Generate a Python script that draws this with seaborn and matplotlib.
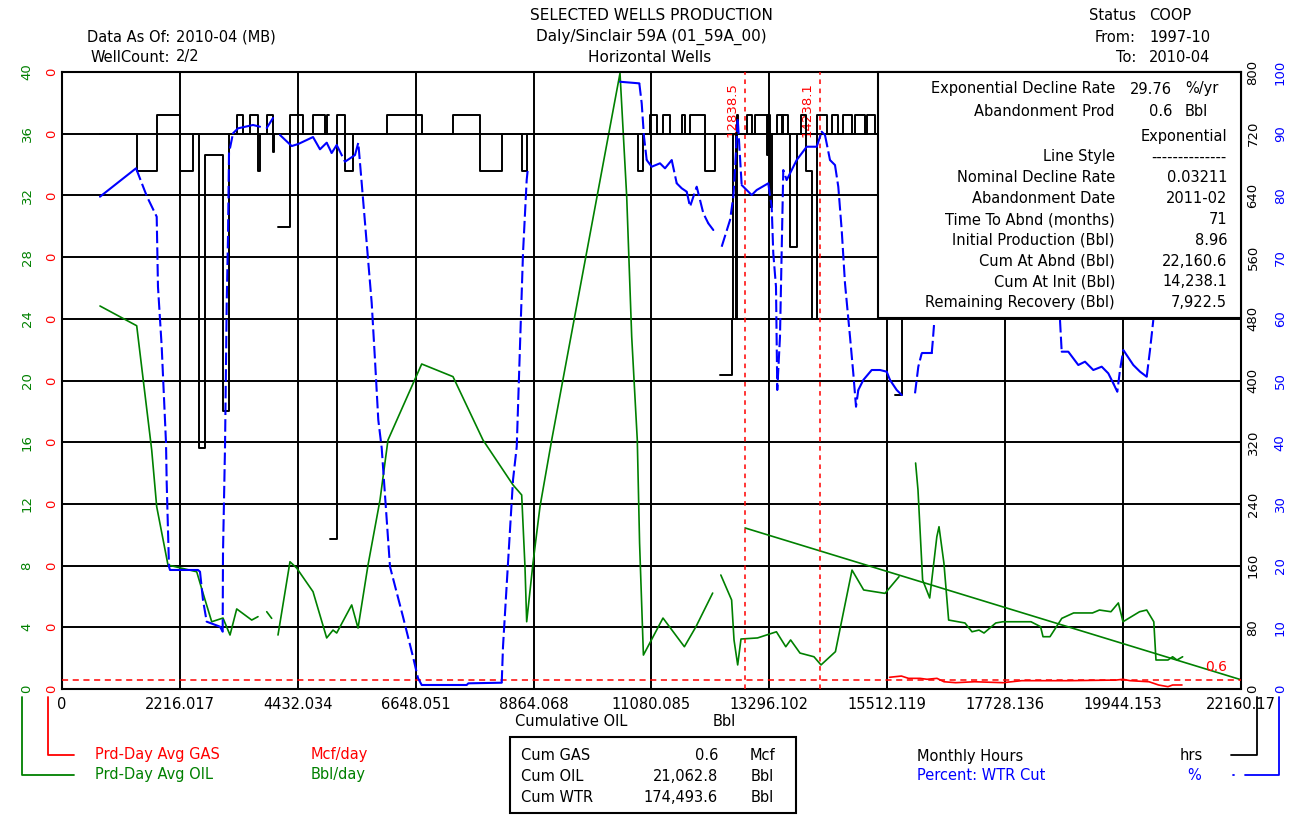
import numpy as np
import pandas as pd
import matplotlib.pyplot as plt
from matplotlib.patches import Rectangle
from matplotlib.lines import Line2D
import seaborn as sns

sns.set_theme(style='white')
plt.rcParams['font.family'] = ['DejaVu Sans']
plt.rcParams['text.color'] = 'black'

GREEN, RED, BLUE = '#008000', '#ff0000', '#0000ff'
W, H = 1289, 817

# ---------------- data ----------------
x_max = 22160.17
x_ticks = [0, 2216.017, 4432.034, 6648.051, 8864.068, 11080.085, 13296.102,
           15512.119, 17728.136, 19944.153, 22160.17]
x_tick_labels = ['0', '2216.017', '4432.034', '6648.051', '8864.068', '11080.085',
                 '13296.102', '15512.119', '17728.136', '19944.153', '22160.17']
oil_ticks = [0, 4, 8, 12, 16, 20, 24, 28, 32, 36, 40]
gas_ticks = [0, 0.04, 0.08, 0.12, 0.16, 0.2, 0.24, 0.28, 0.32, 0.36, 0.4]
hrs_ticks = [0, 80, 160, 240, 320, 400, 480, 560, 640, 720, 800]
wtr_ticks = [0, 10, 20, 30, 40, 50, 60, 70, 80, 90, 100]

# Prd-Day Avg OIL (Bbl/day) vs cumulative oil, NaN = gap in the record
oil_x = [714, 1404, 1686, 1780, 1992, 2532, 2650, 2814, 3026, 3158, 3284, 3566, 3684, np.nan,
         3848, 3941, np.nan,
         4060, 4285, 4411, 4718, 4975, 5094, 5163, 5445, 5564, 5752, 5977, 6127, 6761, 7349,
         7913, 8477, 8640, 8702, 8734, 8853, 8984, 9204, 10488, 10614, 10708, 10813, 10856,
         10928, 11296, 11698, 11916, 12230, np.nan,
         12383, 12586, 12631, 12700, 12762, 13073, 13428, 13604, 13695, 13871, 14134, 14266,
         14537, 14849, 15068, 15469, 15732, np.nan,
         16044, 16089, 16176, 16309, 16443, 16484, 16576, 16665, 16972, 17104, 17236, 17330,
         17551, 17683, 18213, 18393, 18439, 18570, 18792, 19014, 19369, 19500, 19716, 19855,
         19942, 20254, 20388, 20521, 20562, 20788, 20875, 20957, 21063]
oil_y = [24.83, 23.55, 15.49, 11.82, 8.04, 7.60, 6.22, 4.36, 4.60, 3.50, 5.19, 4.47, 4.69, np.nan,
         5.01, 4.58, np.nan,
         3.50, 8.25, 7.84, 6.31, 3.31, 3.82, 3.63, 5.45, 3.95, 8.04, 12.25, 16.14, 21.07, 20.25,
         16.14, 13.23, 12.58, 7.93, 4.36, 8.17, 11.82, 16.14, 39.92, 31.92, 22.84, 16.14, 9.47,
         2.20, 4.60, 2.74, 4.04, 6.22, np.nan,
         7.39, 5.77, 3.18, 1.56, 3.24, 3.31, 3.71, 2.74, 3.18, 2.33, 2.09, 1.56,
         2.42, 7.71, 6.42, 6.20, 7.28, np.nan,
         14.65, 12.90, 7.07, 5.90, 9.87, 10.52, 8.17, 4.47, 4.28, 3.71, 3.82, 3.63,
         4.28, 4.36, 4.36, 4.04, 3.39, 3.39, 4.58, 4.93, 4.93, 5.12, 5.01, 5.58,
         4.36, 5.01, 5.12, 4.36, 1.88, 1.88, 2.09, 1.88, 2.09]

# Prd-Day Avg GAS (Mcf/day)
gas_x = [15555, 15777, 15911, 16127, 16258, 16446, 16578, 16798, 17151, 17683,
         18038, 18927, 19811, 19942, 20074, 20431, 20610, 20788, 20875, 21051]
gas_y = [0.0076, 0.0084, 0.0069, 0.0069, 0.0063, 0.0069, 0.0047, 0.0041, 0.0047, 0.0041,
         0.0054, 0.0054, 0.0058, 0.0063, 0.0054, 0.0047, 0.0026, 0.0015, 0.0026, 0.0026]

# Percent WTR cut
wtr_x = [714, 1391, 1598, 1780, 1804, 1874, 1955, 1968, 2011, 2030, 2556, 2594, 2650, 2720,
         2970, 3020, 3026, 3064, 3096, 3120, 3139, 3214, 3308, 3590, 3722, np.nan,
         3848, 3966, np.nan,
         4097, 4317, 4441, 4718, 4849, 4975, 5069, 5163, 5319, 5507, 5569, 5633, 5727, 5821,
         5883, 5945, 6009, 6165, 6409, 6597, 6691, 6761, 7607, 7637, 8265, 8289, 8383, 8477,
         8547, 8665, 8734, 8753, np.nan,
         10488, 10851, 10896, 10939, 10990, 11084, 11240, 11334, 11460, 11554, 11648, 11742,
         11804, 11930, 12054, 12148, 12242, np.nan,
         12399, 12556, 12618, 12650, 12700, 12743, 12775, 12869, 12963, 13057, 13275, 13339,
         13369, 13420, 13444, 13495, 13557, 13621, 13809, 13997, 14185, 14279, 14341, 14435,
         14529, 14591, 14655, 14717, 14811, 14873, 14924, 14967, 15061, 15219, 15375, 15501,
         15563, 15689, 15783, np.nan,
         16033, 16095, 16159, 16347, 16366, 16390, np.nan,
         18758, 18790, 18914, 19102, 19228, 19384, 19542, 19666, 19760, 19835, 19886, 19948,
         20136, 20262, 20388, 20450, 20512]
wtr_y = [79.79, 84.39, 79.79, 76.55, 65.20, 55.47, 39.87, 33.39, 19.82, 19.29, 19.29, 19.01,
         14.42, 10.91, 10.10, 9.29, 22.04, 39.27, 62.56, 73.30, 86.87, 90.06, 90.87, 91.41,
         91.13, np.nan,
         90.92, 92.54, np.nan,
         89.79, 88.00, 88.33, 89.46, 87.47, 88.54, 86.87, 88.17, 85.46, 86.54, 88.54, 82.01,
         72.28, 62.56, 53.32, 43.60, 39.06, 19.82, 11.72, 5.23, 1.78, 0.65, 0.65, 0.92, 1.02,
         6.86, 20.42, 33.87, 39.27, 70.66, 82.49, 84.11, np.nan,
         98.42, 98.16, 94.92, 89.51, 85.73, 84.65, 85.20, 84.39, 85.73, 81.96, 81.15, 80.60,
         78.17, 81.41, 77.10, 75.47, 74.39, np.nan,
         71.68, 76.01, 79.79, 84.11, 92.49, 86.27, 81.68, 80.87, 80.06, 80.87, 81.96, 78.17,
         70.61, 65.20, 48.46, 57.10, 84.11, 82.49, 85.73, 87.89, 87.89, 90.32, 89.79, 85.73,
         84.92, 81.41, 74.39, 65.75, 57.10, 51.16, 45.75, 48.46, 50.08, 51.70, 51.70, 51.43,
         50.08, 48.46, 47.65, np.nan,
         47.92, 52.24, 54.41, 54.41, 56.29, 58.99, np.nan,
         59.80, 54.67, 54.67, 52.51, 53.05, 51.70, 52.24, 51.16, 49.54, 48.18, 51.70, 54.94,
         52.51, 51.43, 50.61, 54.94, 59.80]

# Monthly hours (step starts), NaN = break in the line
hrs_x = [714, 1404, 1780, 2218, 2468, 2581, 2688, 3032, 3145, 3284, 3408, 3534, 3690, 3715,
         3848, 3972, 3990, 4022, 4060, 4285, 4535, 4723, 4943, 4975, 5024, 5037, 5163, 5319,
         5475, 6103, 6761, 7355, 7857, 8265, 8640, 8734, 10833, 10927, 11052, 11178, 11302,
         11428, 11648, 11710, 11804, 12086, 12274, 12349, 12368, 12587, 12618, 12659, 12687,
         12715, 12869, 12963, 13025, 13245, 13275, 13307, 13339, 13433, 13527, 13557, 13651,
         13683, 13808, 13890, 13984, 14090, 14184, 14372, 14466, 14591, 14685, 14842, 14905,
         15093, 15125, 15281, 15619, 15656, 15782]
hrs_v = [720, 672, 744, 672, 720, 312, 692, 360, 720, 744, 720, 744, 672, 720,
         744, 696, 720, np.nan, 599, 744, 720, 744, 720, 744, np.nan, 194, 744, 672,
         720, 744, 720, 744, 672, 720, 672, 720, 672, 720, 744, 720, 744,
         720, 744, 720, 744, 672, 720, np.nan, 407, 480, 720, 480, 744,
         720, 744, 720, 744, 692, 744, 625, 720, 744, 720, 744, 720,
         573, 720, 744, 672, 480, 744, 720, 744, 720, 744, 720, 744,
         720, 744, 720, np.nan, 381, 720]
hrs_end = 21063

# exponential decline forecast
decl_x = [12838.5, 22160.6]
decl_y = [10.44, 0.6]
abandon_rate = 0.6
cut_x = [12838.5, 14238.1]
cut_labels = ['12838.5', '14238.1']

info_rows = [('Nominal Decline Rate', '0.03211'), ('Abandonment Date', '2011-02'),
             ('Time To Abnd (months)', '71'), ('Initial Production (Bbl)', '8.96'),
             ('Cum At Abnd (Bbl)', '22,160.6'), ('Cum At Init (Bbl)', '14,238.1'),
             ('Remaining Recovery (Bbl)', '7,922.5')]
cum_rows = [('Cum GAS', '0.6', 'Mcf'), ('Cum OIL', '21,062.8', 'Bbl'),
            ('Cum WTR', '174,493.6', 'Bbl')]


def split_gaps(xs, ys):
    xs, ys = np.asarray(xs, float), np.asarray(ys, float)
    seg = np.cumsum(np.isnan(ys))
    df = pd.DataFrame({'x': xs, 'y': ys, 'seg': seg})
    return df.dropna()


def hours_frame(xs, vs, end):
    rows, seg, prev = [], 0, None
    for x, v in zip(xs, vs):
        if np.isnan(v):
            rows.append((x, prev, seg))
            seg += 1
            prev = None
            continue
        rows.append((x, v, seg))
        prev = v
    rows.append((end, prev, seg))
    return pd.DataFrame(rows, columns=['x', 'y', 'seg'])


def ftext(x, y, s, **kw):
    kw.setdefault('fontsize', 10.5)
    kw.setdefault('va', 'center')
    kw.setdefault('color', 'black')
    return fig.text(x / W, 1 - y / H, s, **kw)


def fline(xs, ys, **kw):
    fig.add_artist(Line2D([x / W for x in xs], [1 - y / H for y in ys], **kw))


# ---------------- figure ----------------
fig = plt.figure(figsize=(W / 100, H / 100), dpi=100)
ax = fig.add_axes([62 / W, 1 - 689 / H, 1179 / W, 617 / H])
ax_gas = ax.twinx()
ax_hrs = ax.twinx()
ax_wtr = ax.twinx()

# oil
sns.lineplot(data=split_gaps(oil_x, oil_y), x='x', y='y', units='seg', estimator=None,
             sort=False, color=GREEN, linewidth=1.2, ax=ax, legend=False)
sns.lineplot(x=decl_x, y=decl_y, color=GREEN, linewidth=1.2, ax=ax, legend=False)
ax.axhline(abandon_rate, color=RED, lw=1.1, ls=(0, (4, 3)), zorder=3)
for cx, cl in zip(cut_x, cut_labels):
    ax.axvline(cx, color=RED, lw=1.1, ls=(0, (3, 3)), zorder=3)
    ax.annotate(cl, xy=(cx, (689 - 137) / 617), xycoords=('data', 'axes fraction'),
                xytext=(-4.5, 0), textcoords='offset points', rotation=90,
                ha='right', va='bottom', color=RED, fontsize=9.5)
ax.annotate('0.6', xy=(x_max, abandon_rate), xytext=(-10, 4), textcoords='offset points',
            ha='right', va='bottom', color=RED, fontsize=10)

# gas
sns.lineplot(x=gas_x, y=gas_y, color=RED, linewidth=1.2, ax=ax_gas, legend=False)

# monthly hours
sns.lineplot(data=hours_frame(hrs_x, hrs_v, hrs_end), x='x', y='y', units='seg',
             estimator=None, sort=False, drawstyle='steps-post', color='black',
             linewidth=1.4, ax=ax_hrs, legend=False)

# water cut: steep stretches drawn dashed, flat stretches solid
wdf = split_gaps(wtr_x, wtr_y)
for _, g in wdf.groupby('seg'):
    px_x = g['x'].to_numpy() / (x_max / 1179)
    px_y = g['y'].to_numpy() * 6.17
    xs, ys = g['x'].to_numpy(), g['y'].to_numpy()
    run_x, run_y, run_kind = [xs[0]], [ys[0]], None
    for i in range(1, len(xs)):
        steep = abs(px_y[i] - px_y[i - 1]) > 2 * abs(px_x[i] - px_x[i - 1])
        if run_kind is not None and steep != run_kind:
            ax_wtr.plot(run_x, run_y, color=BLUE, lw=1.5,
                        ls=(0, (6, 2)) if run_kind else '-')
            run_x, run_y = [run_x[-1]], [run_y[-1]]
        run_kind = steep
        run_x.append(xs[i])
        run_y.append(ys[i])
    ax_wtr.plot(run_x, run_y, color=BLUE, lw=1.5, ls=(0, (6, 2)) if run_kind else '-')

# axes setup
ax.set_xlim(0, x_max)
ax.set_xticks(x_ticks)
ax.set_xticklabels(x_tick_labels, fontsize=10.5, color='black')
ax.tick_params(axis='x', length=0, pad=6, colors='black')

for a, lim, ticks, labels, color, pad in [
        (ax, (0, 40), oil_ticks, [str(t) for t in oil_ticks], GREEN, 20.5),
        (ax_gas, (0, 0.4), gas_ticks, ['0'] * len(gas_ticks), RED, 2.5),
        (ax_hrs, (0, 800), hrs_ticks, [str(t) for t in hrs_ticks], 'black', 4),
        (ax_wtr, (0, 100), wtr_ticks, [str(t) for t in wtr_ticks], BLUE, 23.5)]:
    a.set_ylim(*lim)
    a.set_yticks(ticks)
    a.set_yticklabels(labels, fontsize=9.5, color=color, rotation=90, va='center')
    a.tick_params(axis='y', length=0, pad=pad)
    a.set_xlabel('')
    a.set_ylabel('')

ax_gas.yaxis.tick_left()
for a in (ax_gas, ax_hrs, ax_wtr):
    for s in a.spines.values():
        s.set_visible(False)
for s in ax.spines.values():
    s.set_color('black')
    s.set_linewidth(1.5)
ax.grid(True, color='black', lw=1.4)
ax.set_facecolor('white')

# info box
fig.add_artist(Rectangle((878 / W, 1 - 318 / H), 363 / W, 246 / H, transform=fig.transFigure,
                         facecolor='white', edgecolor='black', lw=1.5, zorder=10))
tk = dict(zorder=11)
ftext(1115, 89, 'Exponential Decline Rate', ha='right', **tk)
ftext(1172, 89, '29.76', ha='right', **tk)
ftext(1185, 89, '%/yr', ha='left', **tk)
ftext(1115, 111, 'Abandonment Prod', ha='right', **tk)
ftext(1172, 111, '0.6', ha='right', **tk)
ftext(1185, 111, 'Bbl', ha='left', **tk)
ftext(1227, 137, 'Exponential', ha='right', **tk)
ftext(1115, 157, 'Line Style', ha='right', **tk)
ftext(1227, 157, '--------------', ha='right', **tk)
for i, (lab, val) in enumerate(info_rows):
    y = 178 + i * 20.8
    ftext(1115, y, lab, ha='right', **tk)
    ftext(1227, y, val, ha='right', **tk)

# header
ftext(651, 16, 'SELECTED WELLS PRODUCTION', ha='center', fontsize=11)
ftext(651, 37, 'Daly/Sinclair 59A (01_59A_00)', ha='center', fontsize=11)
ftext(650, 57, 'Horizontal Wells', ha='center', fontsize=11)
ftext(170, 37, 'Data As Of:', ha='right')
ftext(176, 37, '2010-04 (MB)', ha='left')
ftext(170, 57, 'WellCount:', ha='right')
ftext(176, 57, '2/2', ha='left')
ftext(1136, 16, 'Status', ha='right')
ftext(1149, 16, 'COOP', ha='left')
ftext(1136, 37, 'From:', ha='right')
ftext(1149, 37, '1997-10', ha='left')
ftext(1136, 57, 'To:', ha='right')
ftext(1149, 57, '2010-04', ha='left')

# x axis title
ftext(515, 722, 'Cumulative OIL', ha='left')
ftext(713, 722, 'Bbl', ha='left')

# legend, left
fline([48, 48, 74], [697, 755, 755], color=RED, lw=1.3)
fline([22, 22, 74], [697, 775, 775], color=GREEN, lw=1.3)
ftext(95, 755, 'Prd-Day Avg GAS', ha='left', color=RED)
ftext(311, 755, 'Mcf/day', ha='left', color=RED)
ftext(95, 775, 'Prd-Day Avg OIL', ha='left', color=GREEN)
ftext(311, 775, 'Bbl/day', ha='left', color=GREEN)

# cum box
fig.add_artist(Rectangle((510 / W, 1 - 813 / H), 286 / W, 76 / H, transform=fig.transFigure,
                         facecolor='white', edgecolor='black', lw=1.5))
for i, (lab, val, unit) in enumerate(cum_rows):
    y = 756 + i * 20.5
    ftext(521, y, lab, ha='left')
    ftext(718, y, val, ha='right')
    ftext(762, y, unit, ha='center')

# legend, right
ftext(917, 756, 'Monthly Hours', ha='left')
ftext(1180, 756, 'hrs', ha='left')
ftext(917, 776, 'Percent: WTR Cut', ha='left', color=BLUE)
ftext(1194, 776, '%', ha='center', color=BLUE)
fline([1231, 1257, 1257], [755, 755, 697], color='black', lw=1.3)
fline([1245, 1279, 1279], [775, 775, 697], color=BLUE, lw=1.3)
fline([1232.5, 1234], [775, 775], color=BLUE, lw=1.3)

fig.savefig('out.png', dpi=100, facecolor='white')
